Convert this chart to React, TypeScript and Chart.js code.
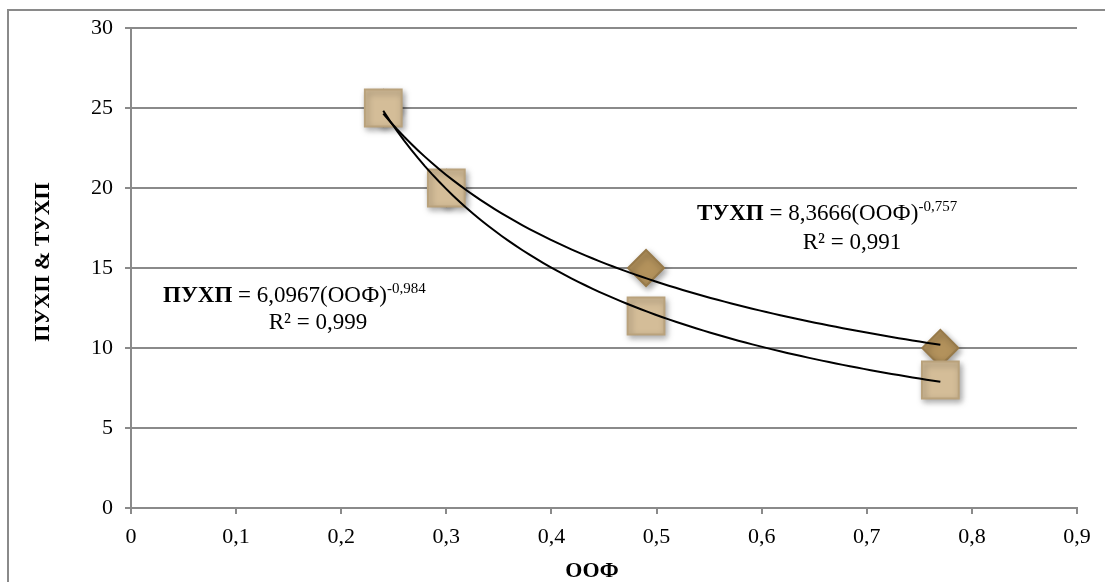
import React, { useEffect, useRef } from "react";
import { Chart, registerables } from "chart.js";
Chart.register(...registerables);

// ---- data ----
const xValues = [0.24, 0.3, 0.49, 0.77];
const puhpValues = [25, 20, 12, 8];
const tuhpValues = [25, 20, 15, 10];
// power trendlines as shown on the chart: y = a * x^b
const puhpCoef = 6.0967;
const puhpExp = -0.984;
const tuhpCoef = 8.3666;
const tuhpExp = -0.757;
const trendFrom = 0.24;
const trendTo = 0.77;

const yTitle = "ПУХП & ТУХП";
const xTitle = "ООФ";
const puhpEqBold = "ПУХП";
const puhpEqMid = " = 6,0967(ООФ)";
const puhpEqSup = "-0,984";
const puhpR2 = "R² = 0,999";
const tuhpEqBold = "ТУХП";
const tuhpEqMid = " = 8,3666(ООФ)";
const tuhpEqSup = "-0,757";
const tuhpR2 = "R² = 0,991";

const FAM = "'Liberation Serif', 'Times New Roman', serif";
const GRAY = "#8a8a8a";

function trend(a: number, b: number) {
  const pts: { x: number; y: number }[] = [];
  const n = 80;
  for (let i = 0; i <= n; i++) {
    const x = trendFrom + ((trendTo - trendFrom) * i) / n;
    pts.push({ x, y: a * Math.pow(x, b) });
  }
  return pts;
}

function fmt(v: number) {
  const r = Math.round(v * 10) / 10;
  return String(r).replace(".", ",");
}

function drawEq(
  ctx: CanvasRenderingContext2D,
  x0: number,
  y1: number,
  r2cx: number,
  y2: number,
  bold: string,
  mid: string,
  sup: string,
  r2: string
) {
  const f = 23;
  const fs = 15;
  ctx.fillStyle = "#000";
  ctx.textBaseline = "alphabetic";
  ctx.textAlign = "left";
  let x = x0;
  ctx.font = `bold ${f}px ${FAM}`;
  ctx.fillText(bold, x, y1);
  x += ctx.measureText(bold).width;
  ctx.font = `${f}px ${FAM}`;
  ctx.fillText(mid, x, y1);
  x += ctx.measureText(mid).width;
  ctx.font = `${fs}px ${FAM}`;
  ctx.fillText(sup, x, y1 - 9);
  ctx.font = `${f}px ${FAM}`;
  ctx.textAlign = "center";
  ctx.fillText(r2, r2cx, y2);
}

const decorPlugin = {
  id: "decor",
  beforeDraw(chart: any) {
    const ctx = chart.ctx;
    ctx.save();
    ctx.strokeStyle = GRAY;
    ctx.lineWidth = 2;
    ctx.beginPath();
    ctx.moveTo(8, 582);
    ctx.lineTo(8, 10);
    ctx.lineTo(1105, 10);
    ctx.stroke();
    ctx.restore();
  },
  beforeDatasetDraw(chart: any, args: any) {
    const ds = chart.data.datasets[args.index];
    if (ds.isMarker) {
      const ctx = chart.ctx;
      ctx.save();
      ctx.shadowColor = "rgba(0,0,0,0.35)";
      ctx.shadowBlur = 6;
      ctx.shadowOffsetX = 2;
      ctx.shadowOffsetY = 3;
    }
  },
  afterDatasetDraw(chart: any, args: any) {
    const ds = chart.data.datasets[args.index];
    if (ds.isMarker) chart.ctx.restore();
  },
  afterDraw(chart: any) {
    const ctx = chart.ctx;
    const area = chart.chartArea;
    ctx.save();
    ctx.fillStyle = "#000";
    ctx.font = `bold 22px ${FAM}`;
    ctx.textAlign = "center";
    ctx.textBaseline = "middle";
    ctx.fillText(xTitle, (area.left + area.right) / 2 - 12, 571);
    ctx.save();
    ctx.translate(43, (area.top + area.bottom) / 2 - 6);
    ctx.rotate(-Math.PI / 2);
    ctx.fillText(yTitle, 0, 0);
    ctx.restore();
    drawEq(ctx, 163, 302, 318, 329, puhpEqBold, puhpEqMid, puhpEqSup, puhpR2);
    drawEq(ctx, 697, 220, 852, 249, tuhpEqBold, tuhpEqMid, tuhpEqSup, tuhpR2);
    ctx.restore();
  },
};

export default function App() {
  const ref = useRef<HTMLCanvasElement>(null);
  useEffect(() => {
    if (!ref.current) return;
    const chart = new Chart(ref.current, {
      type: "scatter",
      data: {
        datasets: [
          {
            label: "ПУХП trend",
            data: trend(puhpCoef, puhpExp),
            showLine: true,
            borderColor: "#000",
            borderWidth: 2,
            pointRadius: 0,
            order: 0,
          } as any,
          {
            label: "ТУХП trend",
            data: trend(tuhpCoef, tuhpExp),
            showLine: true,
            borderColor: "#000",
            borderWidth: 2,
            pointRadius: 0,
            order: 0,
          } as any,
          {
            label: "ПУХП",
            data: xValues.map((x, i) => ({ x, y: puhpValues[i] })),
            pointStyle: "rect",
            pointRadius: 26,
            backgroundColor: "#d4bd98",
            borderColor: "#b9a27c",
            borderWidth: 2,
            isMarker: true,
            order: 1,
          } as any,
          {
            label: "ТУХП",
            data: xValues.map((x, i) => ({ x, y: tuhpValues[i] })),
            pointStyle: "rectRot",
            pointRadius: 18,
            backgroundColor: "#b3925c",
            borderColor: "#977a4a",
            borderWidth: 2,
            isMarker: true,
            order: 2,
          } as any,
        ],
      },
      options: {
        animation: false,
        responsive: false,
        events: [],
        clip: false as any,
        layout: { padding: { left: 0, top: 26, right: 22, bottom: 0 } },
        plugins: {
          legend: { display: false },
          tooltip: { enabled: false },
        },
        scales: {
          x: {
            type: "linear",
            min: 0,
            max: 0.9,
            afterFit: (s: any) => {
              s.height = 74;
            },
            ticks: {
              stepSize: 0.1,
              color: "#000",
              font: { family: FAM, size: 22 },
              padding: 10,
              callback: (v: any) => fmt(Number(v)),
            },
            grid: {
              drawOnChartArea: false,
              drawTicks: true,
              tickLength: 6,
              color: GRAY,
              lineWidth: 2,
            },
            border: { display: true, color: GRAY, width: 2 },
          },
          y: {
            type: "linear",
            min: 0,
            max: 30,
            afterFit: (s: any) => {
              s.width = 131;
            },
            ticks: {
              stepSize: 5,
              color: "#000",
              font: { family: FAM, size: 22 },
              padding: 12,
              callback: (v: any) => fmt(Number(v)),
            },
            grid: {
              tickLength: 6,
              color: GRAY,
              lineWidth: 2,
            },
            border: { display: true, color: GRAY, width: 2 },
          },
        },
      },
      plugins: [decorPlugin],
    });
    return () => chart.destroy();
  }, []);
  return (
    <div style={{ position: "absolute", left: 0, top: 0, width: 1105, height: 582, background: "#fff" }}>
      <canvas ref={ref} width={1105} height={582} style={{ display: "block" }} />
    </div>
  );
}
